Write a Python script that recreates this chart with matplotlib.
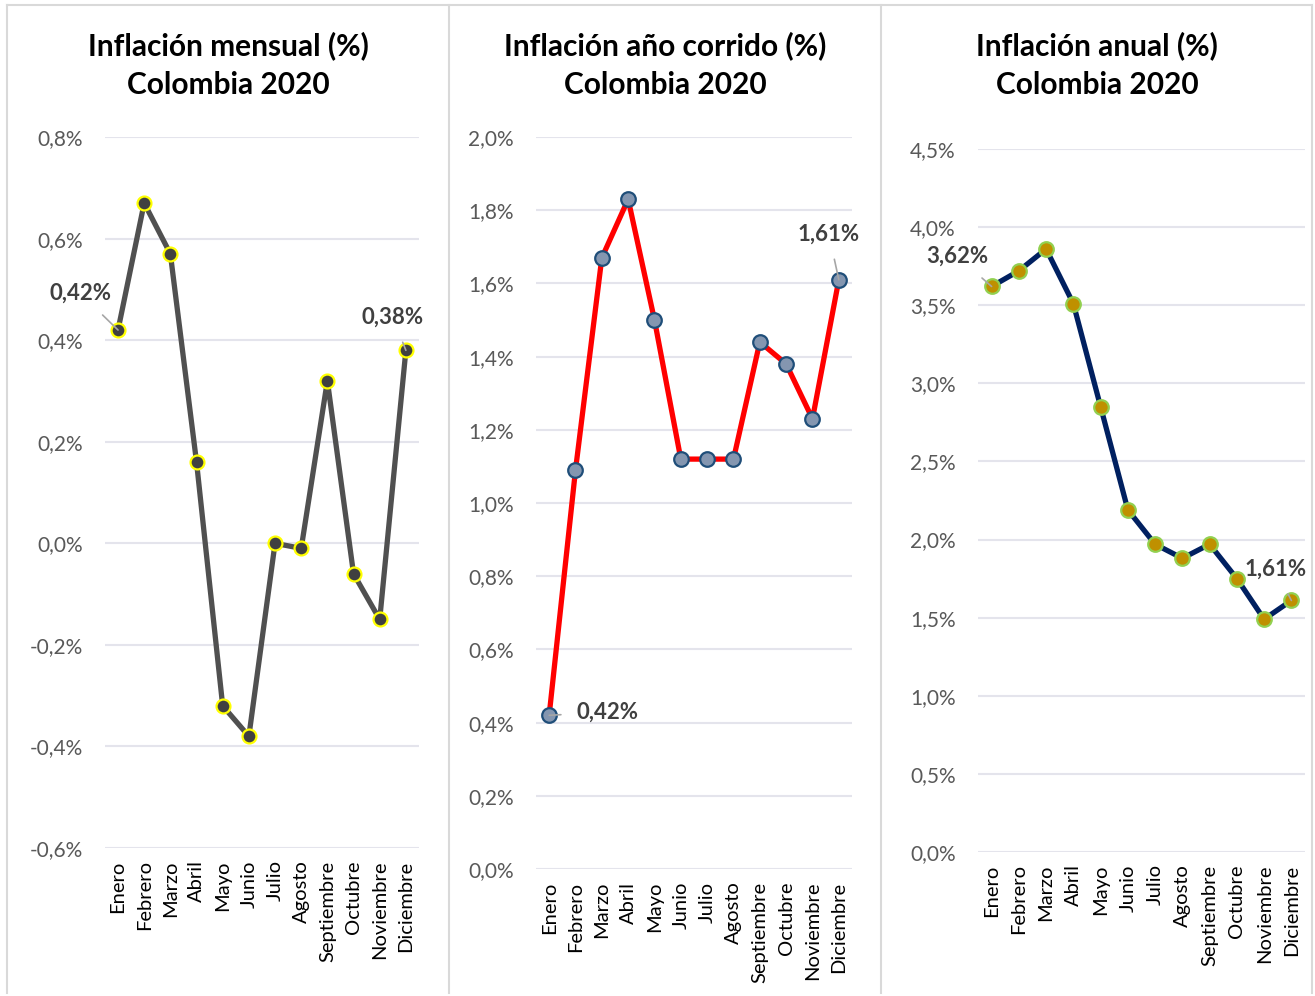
import matplotlib
matplotlib.use("Agg")
import matplotlib.pyplot as plt
from matplotlib.ticker import FuncFormatter, MultipleLocator
from matplotlib.lines import Line2D

plt.rcParams['font.family'] = ['Lato', 'DejaVu Sans']

meses = ['Enero', 'Febrero', 'Marzo', 'Abril', 'Mayo', 'Junio', 'Julio',
         'Agosto', 'Septiembre', 'Octubre', 'Noviembre', 'Diciembre']

# inflacion mensual, año corrido y anual (%)
mensual = [0.42, 0.67, 0.57, 0.16, -0.32, -0.38, 0.00, -0.01, 0.32, -0.06, -0.15, 0.38]
corrido = [0.42, 1.09, 1.67, 1.83, 1.50, 1.12, 1.12, 1.12, 1.44, 1.38, 1.23, 1.61]
anual = [3.62, 3.72, 3.86, 3.51, 2.85, 2.19, 1.97, 1.88, 1.97, 1.75, 1.49, 1.61]

W, H = 1315, 996
fig = plt.figure(figsize=(W / 100, H / 100), dpi=100)


def fmt(dec):
    def f(v, pos):
        return (f"{v:.{dec}f}%").replace('.', ',').replace('-0,0%', '0,0%')
    return FuncFormatter(f)


def panel(rect, vals, ylim, step, title, tx, line_c, face_c, edge_c, msize, labels):
    ax = fig.add_axes(rect)
    x = range(len(vals))
    ax.plot(x, vals, color=line_c, lw=3.8, marker='o', ms=msize,
            mfc=face_c, mec=edge_c, mew=1.6, zorder=3)
    ax.set_xlim(-0.5, len(vals) - 0.5)
    ax.set_ylim(*ylim)
    ax.yaxis.set_major_locator(MultipleLocator(step))
    ax.yaxis.set_major_formatter(fmt(1))
    ax.grid(axis='y', color='#e4e4ec', lw=1.5)
    ax.set_axisbelow(True)
    for s in ax.spines.values():
        s.set_visible(False)
    ax.set_xticks(list(x))
    ax.set_xticklabels(meses, rotation=90, fontsize=14.5, color='black')
    ax.tick_params(axis='x', length=0, pad=9)
    ax.tick_params(axis='y', length=0, pad=16, labelsize=15, labelcolor='#595959')
    for line, yy in zip(title.split('\n'), (46, 85)):
        fig.text(tx / W, 1 - yy / H, line, ha='center', va='center',
                 fontsize=21.5, fontweight='bold', color='black')
    for i, dx, dy in labels:
        txt = f"{vals[i]:.2f}%".replace('.', ',')
        ax.annotate(txt, xy=(i, vals[i]), xytext=(dx, dy),
                    textcoords='offset pixels', ha='center', va='center',
                    fontsize=16, fontweight='bold', color='#404040',
                    arrowprops=dict(arrowstyle='-', color='#a6a6a6', lw=1.2,
                                    shrinkA=9, shrinkB=0))
    return ax


ax1 = panel([0.0798, 0.1486, 0.2388, 0.7138], mensual, (-0.6, 0.8), 0.2,
            'Inflación mensual (%)\nColombia 2020', 228, '#505050', '#404040',
            '#ffff00', 10, [(0, -38, 37), (11, -13, 33)])

ax2 = panel([0.4076, 0.1275, 0.2403, 0.7349], corrido, (0.0, 2.0), 0.2,
            'Inflación año corrido (%)\nColombia 2020', 665, '#ff0000', '#8496b0',
            '#1f4e79', 10.5, [(0, 58, 3), (11, -10, 46)])

ax3 = panel([0.7437, 0.1446, 0.2487, 0.7058], anual, (0.0, 4.5), 0.5,
            'Inflación anual (%)\nColombia 2020', 1097, '#002060', '#bf9000',
            '#92d050', 10.5, [(0, -34, 30), (11, -16, 31)])

# separadores entre paneles
for xx in (449 / W, 881 / W):
    fig.add_artist(Line2D([xx, xx], [0.003, 0.995], transform=fig.transFigure,
                          color='#d9d9d9', lw=1.5))
fig.add_artist(Line2D([0.005, 0.005], [0.003, 0.995], transform=fig.transFigure,
                      color='#d9d9d9', lw=1.5))
fig.add_artist(Line2D([0.005, 0.998], [0.995, 0.995], transform=fig.transFigure,
                      color='#d9d9d9', lw=1.5))
fig.add_artist(Line2D([0.998, 0.998], [0.003, 0.995], transform=fig.transFigure,
                      color='#d9d9d9', lw=1.5))

fig.savefig('out.png', dpi=100, facecolor='white')
